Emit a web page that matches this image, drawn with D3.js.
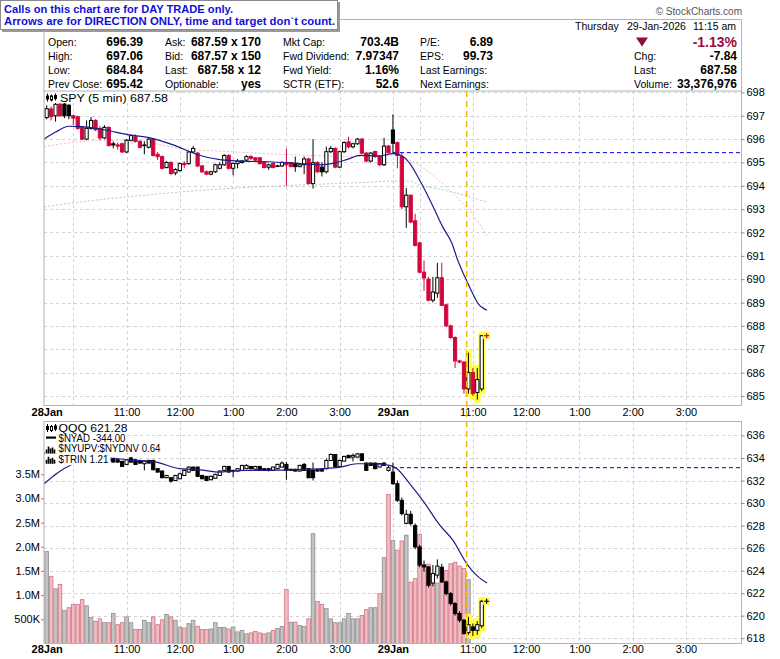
<!DOCTYPE html>
<html>
<head>
<meta charset="utf-8">
<script src="https://d3js.org/d3.v7.min.js"></script>
<style>
  body { margin: 0; background: #fff; }
  svg { display: block; }
  text { font-family: "Liberation Sans", Arial, sans-serif; }
</style>
</head>
<body>
<svg id="chart" width="780" height="659"></svg>
<script>
// ---- SPY 5 min, 28 Jan full session + 29 Jan to 11:10 ----
const spyOpen = [
  696.92, 697.29, 697.0, 697.49, 697.5, 697.45, 697.0, 696.96, 696.5, 696.0,
  696.46, 696.8, 696.46, 696.05, 696.5, 695.8, 695.75, 695.8, 695.45, 695.95,
  696.1, 695.9, 695.75, 695.65, 696.0, 695.35, 695.25, 694.78, 695.0, 694.55,
  694.65, 694.95, 694.95, 695.45, 695.4, 694.85, 694.6, 694.5, 694.6, 694.75,
  694.9, 695.3, 694.75, 694.95, 695.0, 695.1, 695.25, 695.2, 695.2, 695.0,
  694.8, 694.95, 694.85, 694.85, 695.0, 695.0, 694.96, 694.82, 694.9, 695.15,
  694.1, 695.0, 694.8, 694.6, 695.46, 695.6, 694.8, 695.46, 695.88, 695.67,
  695.8, 696.0, 695.4, 695.06, 695.47, 695.25, 694.9, 695.7, 696.39, 695.85,
  695.25, 693.1, 693.6, 692.5, 691.55, 690.3, 690.0, 689.1, 689.4, 690.06,
  688.9, 688.0, 687.5, 686.5, 686.45, 685.3, 686.0, 685.15, 685.3
];
const spyHigh = [
  697.45, 697.4, 697.55, 697.55, 697.55, 697.5, 697.05, 697.0, 696.55, 696.8,
  696.95, 696.85, 696.55, 696.6, 696.55, 695.9, 695.85, 695.85, 696.0, 696.2,
  696.2, 695.95, 695.9, 696.05, 696.05, 695.45, 695.3, 695.05, 695.05, 694.75,
  695.0, 695.05, 695.5, 695.7, 695.45, 694.9, 694.65, 694.65, 694.95, 695.0,
  695.35, 695.35, 695.0, 695.15, 695.1, 695.32, 695.32, 695.22, 695.22, 695.05,
  694.95, 695.0, 694.9, 695.05, 695.6, 695.02, 695.25, 694.95, 695.25, 695.2,
  696.0, 695.05, 695.0, 695.68, 695.7, 695.65, 695.5, 695.9, 696.1, 695.85,
  696.05, 696.05, 695.45, 695.45, 695.5, 695.3, 696.05, 695.75, 697.06, 695.9,
  695.4, 693.9, 693.6, 692.8, 691.6, 690.8, 690.1, 690.1, 690.7, 690.7,
  688.95, 688.05, 687.55, 686.55, 686.5, 686.85, 686.2, 686.2, 687.6
];
const spyLow = [
  696.85, 696.8, 696.75, 696.95, 696.9, 696.85, 696.6, 696.4, 695.95, 695.95,
  696.4, 696.35, 695.95, 696.0, 695.7, 695.6, 695.55, 695.4, 695.4, 695.9,
  695.85, 695.6, 695.35, 695.6, 695.25, 695.1, 694.7, 694.75, 694.45, 694.45,
  694.6, 694.75, 694.9, 695.4, 694.8, 694.55, 694.45, 694.45, 694.55, 694.7,
  694.85, 694.7, 694.45, 694.75, 694.95, 695.05, 695.1, 695.05, 694.9, 694.75,
  694.68, 694.75, 694.8, 694.8, 694.0, 694.8, 694.6, 694.8, 694.5, 694.05,
  693.88, 694.55, 694.4, 694.53, 695.4, 694.75, 694.75, 695.4, 695.6, 695.6,
  695.75, 695.35, 695.0, 695.0, 695.2, 694.85, 694.85, 695.38, 695.4, 694.75,
  693.0, 692.2, 692.4, 691.4, 690.25, 689.5, 689.05, 689.0, 689.2, 688.85,
  687.95, 687.45, 686.2, 686.4, 685.1, 685.1, 685.0, 684.84, 685.2
];
const spyClose = [
  697.3, 696.96, 697.49, 697.0, 697.0, 697.0, 696.9, 696.46, 696.0, 696.46,
  696.8, 696.4, 696.05, 696.5, 695.72, 695.75, 695.7, 695.45, 695.95, 696.15,
  695.9, 695.65, 695.72, 696.0, 695.3, 695.25, 694.75, 695.0, 694.53, 694.7,
  694.95, 694.9, 695.45, 695.6, 694.85, 694.6, 694.5, 694.6, 694.9, 694.9,
  695.3, 694.75, 694.96, 695.05, 695.06, 695.25, 695.18, 695.1, 694.95, 694.78,
  694.9, 694.78, 694.85, 695.0, 694.9, 694.82, 694.82, 694.9, 695.15, 694.1,
  694.99, 694.6, 694.6, 695.46, 695.6, 694.8, 695.46, 695.85, 695.67, 695.8,
  696.0, 695.4, 695.06, 695.4, 695.25, 694.9, 695.7, 695.42, 695.82, 695.3,
  693.1, 693.6, 692.45, 691.45, 690.3, 690.05, 689.1, 689.45, 690.06, 688.88,
  688.0, 687.5, 686.5, 686.45, 685.3, 686.0, 685.1, 685.7, 687.58
];
// moving averages as [bar, value]
const spyMA20 = [[-0.6,696.0],[2,696.3],[5,696.55],[8,696.53],[13.5,696.38],[18,696.2],[23.3,696.05],
  [28.5,695.75],[33.8,695.35],[39,695.12],[45,695.05],[50,695.03],[56.4,694.96],[61.6,694.9],[64.5,694.96],
  [67.6,695.12],[70.6,695.3],[75,695.28],[78,695.38],[79.6,695.32],[81.8,694.96],[83.6,694.39],[85.6,693.67],
  [87.4,692.96],[89.2,692.24],[91.3,691.53],[92.6,690.81],[94.2,690.1],[95.8,689.45],[97.2,688.95],[99.2,688.67]];
const spyMA50 = [[-0.6,695.67],[7.5,695.89],[18.8,695.96],[30,695.6],[41.3,695.46],[56.4,695.32],[71.2,695.25],
  [78.9,695.32],[81.8,695.1],[87.4,694.39],[92.6,693.46],[95.8,692.8],[99.2,691.88]];
const spyMA200 = [[-0.6,693.1],[11.3,693.39],[26.2,693.67],[41.3,693.89],[56.4,694.03],[71.2,694.14],[78,694.2],
  [81.8,694.2],[83.6,694.07],[91.3,693.74],[99.2,693.3]];

// ---- QQQ 5 min ----
const qqqOpen = [
  634.3, 634.5, 634.2, 634.4, 634.1, 634.3, 634.4, 634.2, 634.3, 634.0,
  634.2, 634.1, 634.3, 634.2, 633.93, 633.93, 633.84, 633.7, 633.43, 634.0,
  633.84, 633.78, 633.49, 633.78, 633.78, 633.05, 632.84, 632.25, 632.25, 632.0,
  632.16, 632.45, 632.75, 633.19, 633.19, 632.45, 632.37, 632.07, 632.2, 632.45,
  632.9, 633.25, 632.9, 632.84, 632.9, 633.05, 633.25, 633.0, 633.25, 633.05,
  633.05, 632.9, 633.05, 633.19, 633.43, 633.0, 633.0, 632.84, 633.43, 633.05,
  632.9, 632.96, 632.96, 633.05, 633.78, 634.31, 633.25, 633.72, 634.23, 634.08,
  634.08, 634.37, 633.55, 633.55, 633.55, 633.2, 633.55, 632.9, 632.75, 631.72,
  630.24, 628.2, 629.0, 628.0, 626.1, 624.48, 624.33, 622.9, 623.6, 624.3,
  623.0, 621.96, 621.08, 620.19, 619.6, 618.5, 619.0, 618.7, 619.1
];
const qqqHigh = [
  634.7, 634.6, 634.5, 634.5, 634.4, 634.5, 634.5, 634.4, 634.4, 634.3,
  634.3, 634.4, 634.4, 634.3, 634.05, 634.0, 633.9, 633.75, 633.9, 634.1,
  633.9, 633.85, 633.8, 633.85, 633.85, 633.1, 632.9, 632.5, 632.3, 632.5,
  632.7, 632.95, 633.25, 633.25, 633.25, 632.5, 632.4, 632.45, 632.6, 632.9,
  633.3, 633.3, 632.95, 633.1, 633.4, 633.45, 633.3, 633.3, 633.3, 633.1,
  633.1, 633.25, 633.5, 633.7, 633.65, 633.05, 633.05, 633.4, 633.55, 633.1,
  633.6, 633.0, 633.0, 633.95, 634.4, 634.35, 633.85, 634.2, 634.3, 634.4,
  634.45, 634.4, 633.6, 633.6, 633.6, 633.55, 633.6, 633.35, 633.6, 632.0,
  630.5, 629.4, 629.3, 628.2, 626.3, 624.9, 624.4, 624.5, 625.0, 624.6,
  623.1, 622.1, 621.2, 620.4, 619.7, 619.9, 619.3, 619.5, 621.4
];
const qqqLow = [
  634.0, 634.1, 634.1, 634.0, 633.9, 634.2, 634.1, 634.1, 633.9, 633.9,
  634.0, 634.0, 634.1, 633.9, 633.7, 633.6, 633.55, 633.2, 633.4, 633.55,
  633.4, 633.5, 632.9, 633.5, 632.9, 632.7, 632.2, 632.2, 631.8, 631.95,
  632.1, 632.4, 632.7, 632.85, 632.3, 632.1, 631.95, 632.0, 632.15, 632.4,
  632.85, 632.7, 632.3, 632.8, 632.85, 633.0, 633.0, 632.95, 632.9, 632.85,
  632.8, 632.85, 633.0, 633.15, 632.07, 632.85, 632.8, 632.8, 632.85, 632.2,
  632.0, 632.8, 632.8, 633.0, 633.75, 633.2, 633.2, 633.7, 634.0, 633.7,
  634.05, 633.75, 632.85, 633.3, 633.0, 633.15, 633.3, 632.8, 631.6, 630.1,
  628.9, 628.1, 628.0, 625.9, 624.3, 623.9, 622.5, 622.6, 623.3, 622.9,
  621.8, 620.9, 620.0, 619.4, 618.3, 618.3, 618.2, 618.3, 618.9
];
const qqqClose = [
  634.5, 634.2, 634.4, 634.1, 634.3, 634.4, 634.2, 634.3, 634.0, 634.2,
  634.1, 634.3, 634.2, 634.0, 633.78, 633.64, 633.64, 633.25, 633.84, 633.64,
  633.43, 633.55, 633.72, 633.55, 632.96, 632.75, 632.25, 632.45, 631.95, 632.45,
  632.6, 632.9, 633.19, 632.9, 632.37, 632.16, 632.0, 632.37, 632.54, 632.84,
  633.25, 632.75, 632.84, 633.05, 633.34, 633.34, 633.05, 633.25, 632.96, 632.9,
  632.9, 633.19, 633.43, 633.55, 632.9, 632.9, 632.84, 633.34, 632.9, 632.25,
  632.25, 632.84, 632.84, 633.78, 634.31, 633.25, 633.78, 634.14, 634.02, 634.23,
  634.37, 633.78, 632.9, 633.34, 633.05, 633.5, 633.34, 633.14, 631.72, 630.24,
  629.06, 629.0, 628.17, 626.1, 624.48, 624.33, 622.7, 623.74, 624.4, 623.0,
  621.96, 621.08, 620.19, 619.6, 618.42, 619.2, 618.7, 619.2, 621.28
];
const qqqMA20 = [[-0.6,631.7],[2.5,632.7],[5.6,633.4],[9.5,633.85],[13.8,634.0],[19.4,633.8],[23.9,633.7],
  [30,633.05],[34.5,632.95],[39,632.75],[42,632.85],[45.8,632.9],[54.8,632.95],[62.2,633.05],[66.1,633.19],
  [69.9,633.49],[73.5,633.49],[77.3,633.34],[78.9,633.05],[81.8,631.7],[84.7,630.24],[88.6,628.02],
  [91.5,626.7],[94.6,624.63],[96.8,623.6],[99.2,622.9]];

// volume (shares) and up/down shading as shown
const volume = [
  1.90, 1.39, 1.13, 1.22, 0.686, 0.74, 0.81, 0.81, 0.907, 0.78,
  0.54, 0.46, 0.51, 0.43, 0.43, 0.62, 0.39, 0.43, 0.55, 0.43,
  0.29, 0.29, 0.48, 0.43, 0.55, 0.39, 0.49, 0.60, 0.55, 0.48,
  0.34, 0.32, 0.41, 0.48, 0.355, 0.29, 0.29, 0.30, 0.43, 0.33,
  0.33, 0.30, 0.34, 0.24, 0.27, 0.20, 0.22, 0.25, 0.22, 0.20,
  0.22, 0.27, 0.31, 0.355, 1.12, 0.44, 0.44, 0.376, 0.355, 0.51,
  2.27, 0.87, 0.81, 0.72, 0.51, 0.43, 0.43, 0.51, 0.62, 0.51,
  0.51, 0.58, 0.70, 0.74, 0.74, 1.03, 1.775, 3.08, 2.13, 1.93,
  2.12, 2.24, 1.27, 1.34, 2.26, 1.64, 1.64, 1.31, 1.25, 1.27,
  1.51, 1.65, 1.68, 1.60, 1.55, 1.32
].map(v => v * 1e6);
const volUp = [
  1,0,1,0,1,0,0,0,0,1, 1,0,0,1,0,1,0,0,1,1, 0,0,1,1,0,0,0,1,0,1,
  1,0,1,1,0,0,0,1,1,1, 1,0,1,1,1,1,0,0,0,0, 1,0,1,1,0,1,0,1,1,0,
  1,0,0,1,1,0,1,1,1,1, 1,0,0,1,1,0,1,0,1,0, 0,1,0,0,0,0,0,0,1,0,
  0,0,0,0,0,1
];

const prevClose = { spy: 695.42, qqq: 633.14 };
const signalBar = 94.6;          // yellow vertical marker
const highlightBars = [95, 96, 97, 98];

// x axis: bar index of each session time
const tickIdx = [0, 6, 18, 30, 42, 54, 66, 78, 84, 96, 108, 120, 132, 144];
const tickLbl = ['28Jan', '', '11:00', '12:00', '1:00', '2:00', '3:00', '29Jan', '', '11:00', '12:00', '1:00', '2:00', '3:00'];
const spyTicks = d3.range(685, 699);
const qqqTicks = d3.range(618, 637, 2);
const volTicks = [0.5e6, 1e6, 1.5e6, 2e6, 2.5e6, 3e6, 3.5e6];

const titleLines = ['Calls on this chart are for DAY TRADE only.', 'Arrows are for DIRECTION ONLY, time and target don`t count.'];
const infoCols = [
  { lx: 48, vx: 143, rows: [['Open:', '696.39'], ['High:', '697.06'], ['Low:', '684.84'], ['Prev Close:', '695.42']] },
  { lx: 165, vx: 261, rows: [['Ask:', '687.59 x 170'], ['Bid:', '687.57 x 150'], ['Last:', '687.58 x 12'], ['Optionable:', 'yes']] },
  { lx: 283, vx: 399, rows: [['Mkt Cap:', '703.4B'], ['Fwd Dividend:', '7.97347'], ['Fwd Yield:', '1.16%'], ['SCTR (ETF):', '52.6']] },
  { lx: 420, vx: 493, rows: [['P/E:', '6.89'], ['EPS:', '99.73'], ['Last Earnings:', ''], ['Next Earnings:', '']] },
  { lx: 634, vx: 737, rows: [['', ''], ['Chg:', '-7.84'], ['Last:', '687.58'], ['Volume:', '33,376,976']] }
];
const pctChange = '-1.13%';
const dateParts = ['Thursday', '29-Jan-2026', '11:15 am'];
const bottomLegend = ['QQQ 621.28', '$NYAD -344.00', '$NYUPV:$NYDNV 0.64', '$TRIN 1.21'];

// ---------------------------------------------------------------
const svg = d3.select('#chart');
const L = 44, R = 741.5;
const top1 = 91, bot1 = 405.5, top2 = 421.5, bot2 = 643.5;
const RED = '#d2063c', NAVY = '#1c1c8c';

const x = d3.scaleLinear().domain([-0.6, 156.4]).range([L, 741]);
const yTop = d3.scaleLinear().domain([684.59, 698.06]).range([bot1, top1]);
const yBot = d3.scaleLinear().domain([617.53, 637.24]).range([bot2, top2]);
const yVol = d3.scaleLinear().domain([0, 4.59e6]).range([bot2, top2]);

svg.append('rect').attr('width', 780).attr('height', 659).attr('fill', '#fff');

// title box
const tb = svg.append('g');
tb.append('rect').attr('x', 2).attr('y', 2).attr('width', 338).attr('height', 30).attr('fill', '#9a9a9a');
tb.append('rect').attr('x', 0.5).attr('y', 0.5).attr('width', 337).attr('height', 29).attr('fill', '#fff').attr('stroke', '#8a8a8a');
tb.selectAll('text').data(titleLines).join('text')
  .attr('x', 4).attr('y', (d, i) => 12.5 + i * 12.5)
  .attr('font-size', 11.5).attr('font-weight', 'bold').attr('fill', '#1010d8')
  .attr('textLength', (d, i) => i ? 331 : 229).attr('lengthAdjust', 'spacingAndGlyphs')
  .text(d => d);

svg.append('text').attr('x', 742).attr('y', 15).attr('text-anchor', 'end')
  .attr('font-size', 10).attr('fill', '#555').text('\u00a9 StockCharts.com');

// info box frame
svg.append('path').attr('d', `M340,19.5H${R}V${top1}M${L},31V${top1}`).attr('fill', 'none').attr('stroke', '#b4b4b4');

infoCols.forEach(col => {
  col.rows.forEach(([lab, val], r) => {
    const yy = 46 + r * 14;
    if (lab) svg.append('text').attr('x', col.lx).attr('y', yy).attr('font-size', 10.5).text(lab);
    if (val) svg.append('text').attr('x', col.vx).attr('y', yy).attr('text-anchor', 'end')
      .attr('font-size', 12).attr('font-weight', 'bold').text(val);
  });
});
svg.append('text').attr('x', 737).attr('y', 46.5).attr('text-anchor', 'end')
  .attr('font-size', 14).attr('font-weight', 'bold').attr('fill', '#9b0d3c').text(pctChange);
svg.append('path').attr('d', 'M636,37.5H648L642,46.5Z').attr('fill', '#8a0f34');
svg.selectAll('text.date').data(dateParts).join('text').attr('class', 'date')
  .attr('x', (d, i) => [575, 627, 693][i]).attr('y', 30).attr('font-size', 10.5).text(d => d);

// ---- panel helpers ----
const defs = svg.append('defs');
function clip(id, y0, y1) {
  defs.append('clipPath').attr('id', id).append('rect').attr('x', L).attr('y', y0).attr('width', R - L).attr('height', y1 - y0);
}
clip('c1', top1, bot1);
clip('c2', top2, bot2);

function grid(g, yScale, ticks, y0, y1) {
  g.selectAll('line.h').data(ticks).join('line').attr('class', 'h')
    .attr('x1', L).attr('x2', R).attr('y1', d => Math.round(yScale(d)) + 0.5).attr('y2', d => Math.round(yScale(d)) + 0.5)
    .attr('stroke', '#d2d2d2').attr('stroke-dasharray', '3,3');
  g.selectAll('line.v').data(tickIdx.filter(t => t > 0)).join('line').attr('class', 'v')
    .attr('x1', d => Math.round(x(d)) + 0.5).attr('x2', d => Math.round(x(d)) + 0.5).attr('y1', y0).attr('y2', y1)
    .attr('stroke', '#d2d2d2').attr('stroke-dasharray', '3,3');
}

function candles(g, O, H, Lo, C, y, color) {
  const idx = d3.range(C.length);
  g.append('g').selectAll('line').data(idx).join('line')
    .attr('x1', i => x(i)).attr('x2', i => x(i))
    .attr('y1', i => y(H[i])).attr('y2', i => y(Lo[i]))
    .attr('stroke', color).attr('stroke-width', 1);
  g.append('g').selectAll('rect').data(idx).join('rect')
    .attr('x', i => x(i) - 1.6).attr('width', 3.2)
    .attr('y', i => y(Math.max(O[i], C[i])))
    .attr('height', i => Math.max(0.6, Math.abs(y(O[i]) - y(C[i]))))
    .attr('fill', i => C[i] > O[i] ? '#fff' : color(i))
    .attr('stroke', color).attr('stroke-width', 1);
}

function highlights(g, H, Lo, y) {
  g.selectAll('rect.hl').data(highlightBars).join('rect').attr('class', 'hl')
    .attr('x', i => x(i) - 3.3).attr('width', 6.6)
    .attr('y', i => y(H[i]) - 3).attr('height', i => y(Lo[i]) - y(H[i]) + 6)
    .attr('fill', '#ffff40');
}

function plus(g, xv, yv, color) {
  g.append('rect').attr('x', xv - 3.5).attr('y', yv - 3.5).attr('width', 7).attr('height', 7).attr('fill', '#ffff40');
  g.append('path').attr('d', `M${xv - 2.5},${yv}H${xv + 2.5}M${xv},${yv - 2.5}V${yv + 2.5}`)
    .attr('stroke', color).attr('stroke-width', 1.2);
}

const ma = (y) => d3.line().x(d => x(d[0])).y(d => y(d[1])).curve(d3.curveMonotoneX);

function candleIcon(g, x0, y0) {
  g.append('path').attr('d', `M${x0 + 1.5},${y0}V${y0 + 8}M${x0 + 5.5},${y0 + 1}V${y0 + 8}M${x0 + 9.5},${y0}V${y0 + 7}`)
    .attr('stroke', '#000');
  g.append('rect').attr('x', x0).attr('y', y0 + 2).attr('width', 3).attr('height', 4).attr('fill', '#000');
  g.append('rect').attr('x', x0 + 4.5).attr('y', y0 + 2.5).attr('width', 2).attr('height', 4).attr('fill', '#fff').attr('stroke', '#000');
  g.append('rect').attr('x', x0 + 8).attr('y', y0 + 1.5).attr('width', 3).attr('height', 4).attr('fill', '#000');
}

// ---- top panel: SPY ----
const p1 = svg.append('g');
grid(p1, yTop, spyTicks, top1, bot1);
const c1 = p1.append('g').attr('clip-path', 'url(#c1)');
c1.append('path').attr('d', ma(yTop)(spyMA200)).attr('fill', 'none').attr('stroke', '#a9d3a9').attr('stroke-dasharray', '2,2');
c1.append('path').attr('d', ma(yTop)(spyMA50)).attr('fill', 'none').attr('stroke', '#f3b6c6').attr('stroke-dasharray', '2,2');
c1.append('line').attr('x1', x(78)).attr('x2', R).attr('y1', yTop(prevClose.spy)).attr('y2', yTop(prevClose.spy))
  .attr('stroke', '#0000dd').attr('stroke-dasharray', '4,3');
highlights(c1, spyHigh, spyLow, yTop);
candles(c1, spyOpen, spyHigh, spyLow, spyClose, yTop,
  i => (i === 0 || spyClose[i] >= spyClose[i - 1]) ? '#000' : RED);
c1.append('path').attr('d', ma(yTop)(spyMA20)).attr('fill', 'none').attr('stroke', NAVY).attr('stroke-width', 1.2);
plus(c1, x(spyClose.length - 1 + 1.1), yTop(spyClose[spyClose.length - 1]), RED);
p1.append('rect').attr('x', L).attr('y', top1).attr('width', R - L).attr('height', bot1 - top1)
  .attr('fill', 'none').attr('stroke', '#b4b4b4');

// SPY label
const lab1 = p1.append('g');
const lt1 = lab1.append('text').attr('x', 60).attr('y', 101.5).attr('font-family', '"DejaVu Sans Mono", monospace')
  .attr('font-size', 10).attr('textLength', 108).attr('lengthAdjust', 'spacingAndGlyphs').text('SPY (5 min) 687.58');
lab1.insert('rect', 'text').attr('x', L + 1).attr('y', top1 + 1).attr('width', 125).attr('height', 11).attr('fill', '#fff');
candleIcon(lab1, 46, 93.5);

// right axis SPY
const ax1 = p1.append('g').attr('transform', `translate(${R},0)`)
  .call(d3.axisRight(yTop).tickValues(spyTicks).tickSize(3).tickPadding(2).tickFormat(d3.format('d')));
ax1.select('.domain').remove();
ax1.selectAll('text').attr('font-size', 11).attr('font-family', '"Liberation Sans", Arial, sans-serif');
ax1.selectAll('line').attr('stroke', '#888');

// ---- bottom panel: QQQ + volume ----
const p2 = svg.append('g');
grid(p2, yBot, qqqTicks, top2, bot2);
const c2 = p2.append('g').attr('clip-path', 'url(#c2)');
c2.selectAll('rect.vol').data(volume).join('rect').attr('class', 'vol')
  .attr('x', (d, i) => x(i) - 1.8).attr('width', 3.6)
  .attr('y', d => yVol(d)).attr('height', d => bot2 - yVol(d))
  .attr('fill', (d, i) => volUp[i] ? '#c3c3c3' : '#efbcc2')
  .attr('stroke', (d, i) => volUp[i] ? '#8e8e8e' : '#d27482').attr('stroke-width', 0.8);
c2.append('line').attr('x1', x(78)).attr('x2', R).attr('y1', yBot(prevClose.qqq)).attr('y2', yBot(prevClose.qqq))
  .attr('stroke', '#0000bb').attr('stroke-dasharray', '4,3');
highlights(c2, qqqHigh, qqqLow, yBot);
candles(c2, qqqOpen, qqqHigh, qqqLow, qqqClose, yBot, () => '#000');
c2.append('path').attr('d', ma(yBot)(qqqMA20)).attr('fill', 'none').attr('stroke', NAVY).attr('stroke-width', 1.2);
plus(c2, x(qqqClose.length - 1 + 1.1), yBot(qqqClose[qqqClose.length - 1]), '#000');

// legend rows with white backing
const leg = p2.append('g');
bottomLegend.forEach((t, r) => {
  const yy = 432 + r * 10.2;
  const txt = leg.append('text').attr('x', 58.5).attr('y', yy).text(t);
  if (r === 0) txt.attr('font-family', '"DejaVu Sans Mono", monospace').attr('font-size', 11).attr('textLength', 69).attr('lengthAdjust', 'spacingAndGlyphs');
  else txt.attr('font-size', 10).attr('textLength', [0, 67, 102, 50][r]).attr('lengthAdjust', 'spacingAndGlyphs');
  const w = txt.node().getComputedTextLength();
  leg.insert('rect', 'text').attr('x', L + 1).attr('y', yy - 9.5).attr('width', 58.5 + w - L + 1).attr('height', 10.2 + (r === 3 ? 2 : 0)).attr('fill', '#fff');
});
candleIcon(leg, 46, 424);
leg.append('rect').attr('x', 46).attr('y', 436.5).attr('width', 10).attr('height', 2.2).attr('fill', '#000');
[446.5, 456.7].forEach(yy => {
  leg.append('path').attr('d', `M46.5,${yy + 7}V${yy + 3}M48.5,${yy + 7}V${yy}M50.5,${yy + 7}V${yy + 2}M52.5,${yy + 7}V${yy + 1}M54.5,${yy + 7}V${yy + 3}`)
    .attr('stroke', '#000').attr('stroke-width', 1.6);
});

p2.append('rect').attr('x', L).attr('y', top2).attr('width', R - L).attr('height', bot2 - top2)
  .attr('fill', 'none').attr('stroke', '#b4b4b4');

const ax2 = p2.append('g').attr('transform', `translate(${R},0)`)
  .call(d3.axisRight(yBot).tickValues(qqqTicks).tickSize(3).tickPadding(2).tickFormat(d3.format('d')));
ax2.select('.domain').remove();
ax2.selectAll('text').attr('font-size', 11).attr('font-family', '"Liberation Sans", Arial, sans-serif');
ax2.selectAll('line').attr('stroke', '#888');

const ax3 = p2.append('g').attr('transform', `translate(${L},0)`)
  .call(d3.axisLeft(yVol).tickValues(volTicks).tickSize(3).tickPadding(1)
    .tickFormat(v => v < 1e6 ? (v / 1e3) + 'K' : d3.format('.1f')(v / 1e6) + 'M'));
ax3.select('.domain').remove();
ax3.selectAll('text').attr('font-size', 11).attr('font-family', '"Liberation Sans", Arial, sans-serif');
ax3.selectAll('line').attr('stroke', '#888');

// time labels under each panel
[417.5, 654].forEach(yy => {
  const ax = svg.append('g').attr('transform', `translate(0,${yy - 9})`)
    .call(d3.axisBottom(x).tickValues(tickIdx).tickSize(0).tickPadding(0).tickFormat((d, i) => tickLbl[i]));
  ax.select('.domain').remove();
  ax.selectAll('text').attr('font-size', 11).attr('fill', '#000')
    .attr('font-family', '"Liberation Sans", Arial, sans-serif')
    .attr('font-weight', (d, i) => tickLbl[i].includes('Jan') ? 'bold' : 'normal');
});

// yellow signal line across both panels
svg.append('line').attr('x1', x(signalBar)).attr('x2', x(signalBar)).attr('y1', top1).attr('y2', bot2)
  .attr('stroke', '#f4b400').attr('stroke-width', 1.4).attr('stroke-dasharray', '6,4');
</script>
</body>
</html>
